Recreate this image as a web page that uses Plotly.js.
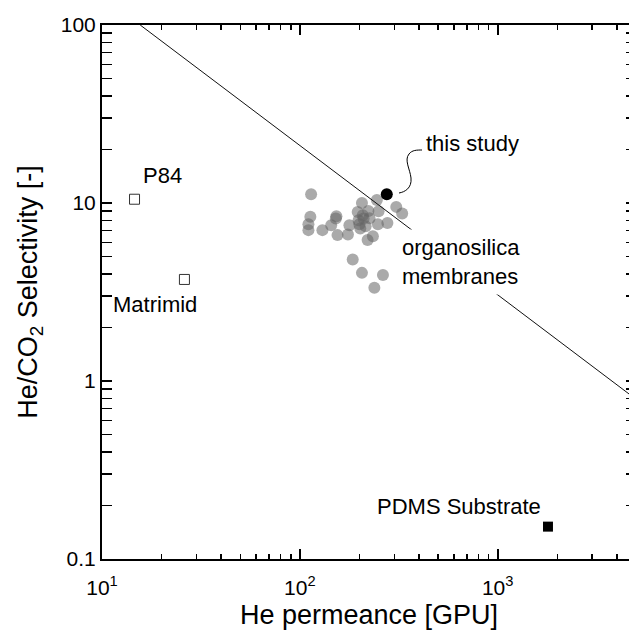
<!DOCTYPE html>
<html><head><meta charset="utf-8">
<script src="https://cdn.plot.ly/plotly-3.0.1.min.js"></script>
<style>html,body{margin:0;padding:0;overflow:hidden;background:#fff;width:629px;height:636px}#chart{width:640px;height:636px}</style>
</head><body><div id="chart"></div>
<script>
// ---- data ----
const organoX = [114,113,110.5,110.5,130,144,153,152,155,175,178,196,206,198,202,210,222,220,234,245,250,248,277,307,329,185,206,263,238,208,200,225,215];
const organoY = [11.2,8.36,7.6,7.04,7.04,7.51,8.43,8.19,6.6,6.66,7.51,8.91,10.0,8.01,7.19,8.19,9.03,6.19,6.51,10.4,9.0,7.6,7.73,9.51,8.73,4.82,4.05,3.94,3.34,8.54,7.6,8.2,7.4];
const studyX = [275];
const studyY = [11.2];
const polymerNames = ["P84","Matrimid"];
const polymerX = [14.6, 26.1];
const polymerY = [10.5, 3.72];
const pdmsX = [1795];
const pdmsY = [0.152];
const boundX = [15.6, 5000];
const boundY = [100, 0.79];
const xTickVals = [10, 100, 1000];
const xTickText = ["10<sup>1</sup>","10<sup>2</sup>","10<sup>3</sup>"];
const yTickVals = [0.1, 1, 10, 100];
const yTickText = ["0.1","1","10","100"];

// ---- layout helpers (pixel -> paper) ----
const L=102, R=4, T=25, B=77, W=640, H=636;
const PW=W-L-R, PH=H-T-B;
const px = x => (x-L)/PW;
const py = y => 1-(y-T)/PH;

function minorVals(lo, hi){ const v=[]; for(let d=lo; d<hi; d++){ for(let k=2;k<=9;k++) v.push(k*Math.pow(10,d)); } return v; }

const FONT = "Liberation Sans, Arial, sans-serif";
const XRANGE = [1, Math.log10(5000)];

const traces = [
  {x: boundX, y: boundY, xaxis:'x2', yaxis:'y', mode:'lines', line:{color:'#111', width:1}, hoverinfo:'skip', showlegend:false},
  {x: organoX, y: organoY, mode:'markers', marker:{size:12, color:'rgb(100,100,100)', opacity:0.55, line:{width:0}}, showlegend:false},
  {x: studyX, y: studyY, mode:'markers', marker:{size:12, color:'#000', line:{width:0}}, showlegend:false},
  {x: polymerX, y: polymerY, text: polymerNames, mode:'markers', marker:{symbol:'square-open', size:10, color:'#333', line:{width:1}}, showlegend:false},
  {x: pdmsX, y: pdmsY, mode:'markers', marker:{symbol:'square', size:10, color:'#000', line:{width:0}}, showlegend:false}
];

const axisCommon = {
  type:'log', showgrid:false, zeroline:false, showline:true, linewidth:2, linecolor:'#000',
  mirror:'allticks', ticks:'inside', ticklen:10, tickwidth:2, tickcolor:'#000',
  tickfont:{family:FONT, size:21, color:'#000'}, tickmode:'array'
};

const layout = {
  width:W, height:H, margin:{l:L, r:R, t:T, b:B},
  paper_bgcolor:'#fff', plot_bgcolor:'#fff', showlegend:false,
  font:{family:FONT, color:'#000'},
  xaxis: Object.assign({}, axisCommon, {
    range:XRANGE, tickvals:xTickVals, ticktext:xTickText, showticklabels:false,
    minor:{ticks:'inside', ticklen:5, tickwidth:1.5, tickcolor:'#000', tickmode:'array', tickvals:minorVals(1,4), showgrid:false},
    title:{text:'He permeance [GPU]', font:{family:FONT, size:27, color:'#000'}}
  }),
  // label-only axis that carries the x tick labels a little lower
  xaxis2: {
    type:'log', overlaying:'x', anchor:'y', side:'bottom', range:XRANGE,
    tickmode:'array', tickvals:xTickVals, ticktext:xTickText,
    ticks:'outside', ticklen:10, tickcolor:'rgba(0,0,0,0)', showline:false, showgrid:false, zeroline:false,
    tickfont:{family:FONT, size:21, color:'#000'}
  },
  yaxis: Object.assign({}, axisCommon, {
    range:[-1, 2], tickvals:yTickVals, ticktext:yTickText,
    minor:{ticks:'inside', ticklen:5, tickwidth:1.5, tickcolor:'#000', tickmode:'array', tickvals:minorVals(-1,2), showgrid:false},
    title:{text:'He/CO<sub>2</sub> Selectivity [-]', font:{family:FONT, size:27, color:'#000'}}
  }),
  annotations:[
    {xref:'paper', yref:'paper', x:px(424), y:py(143), xanchor:'left', yanchor:'middle', text:'this study', showarrow:false, font:{family:FONT, size:22, color:'#000'}},
    {xref:'paper', yref:'paper', x:px(396), y:py(262), xanchor:'left', yanchor:'middle', align:'left', text:'organosilica<br>membranes', showarrow:false, bgcolor:'#fff', borderpad:5, font:{family:FONT, size:22, color:'#000'}},
    {xref:'paper', yref:'paper', x:px(162), y:py(175), xanchor:'center', yanchor:'middle', text:polymerNames[0], showarrow:false, font:{family:FONT, size:22, color:'#000'}},
    {xref:'paper', yref:'paper', x:px(155), y:py(304), xanchor:'center', yanchor:'middle', text:polymerNames[1], showarrow:false, font:{family:FONT, size:22, color:'#000'}},
    {xref:'paper', yref:'paper', x:px(459), y:py(506), xanchor:'center', yanchor:'middle', text:'PDMS Substrate', showarrow:false, font:{family:FONT, size:22, color:'#000'}}
  ],
  shapes:[
    {type:'path', xref:'paper', yref:'paper', line:{color:'#000', width:1},
     path: 'M '+px(399)+','+py(193)+
           ' C '+px(405)+','+py(192)+' '+px(412)+','+py(188)+' '+px(411)+','+py(178)+
           ' C '+px(410)+','+py(169)+' '+px(404)+','+py(160)+' '+px(409)+','+py(154)+
           ' C '+px(412)+','+py(150)+' '+px(417)+','+py(150)+' '+px(422)+','+py(150)}
  ]
};

Plotly.newPlot('chart', traces, layout, {staticPlot:true, displayModeBar:false});
</script>
</body></html>
